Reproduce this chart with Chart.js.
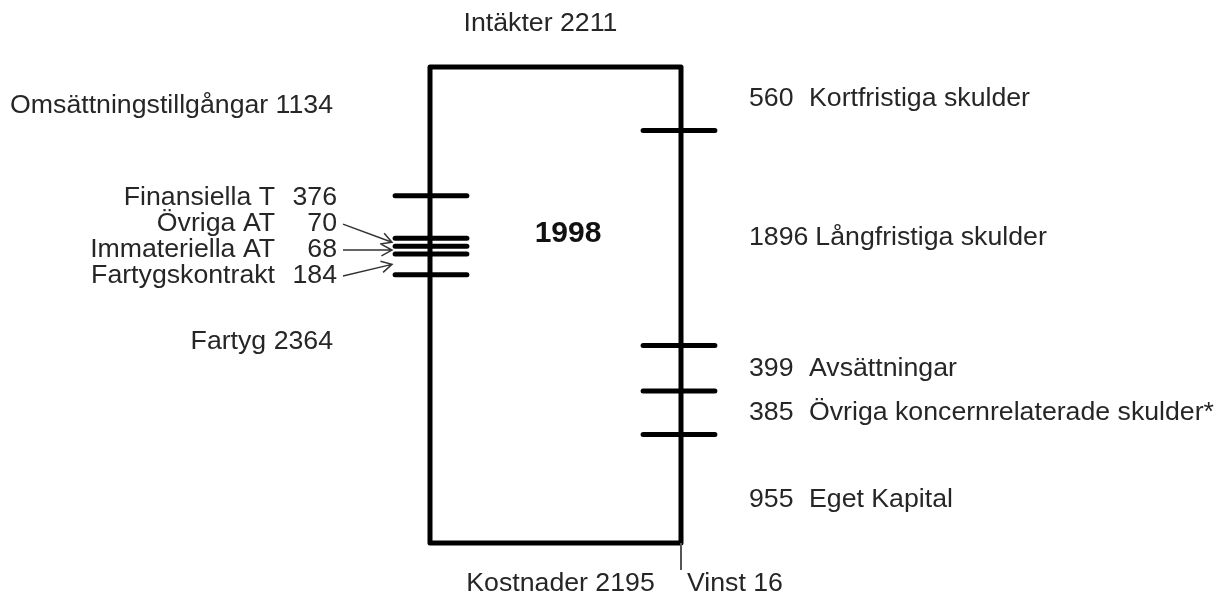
<!DOCTYPE html>
<html>
<head>
<meta charset="utf-8">
<script src="https://cdn.jsdelivr.net/npm/chart.js@4/dist/chart.umd.min.js"></script>
<style>
    html, body { margin: 0; padding: 0; background: #fff; }
    #wrap { width: 1220px; height: 601px; }
</style>
</head>
<body>
<div id="wrap"><canvas id="balanceChart" width="1220" height="601"></canvas></div>
<script>
// Balance sheet 1998 (MSEK)
const year = "1998";
const assetLabels = ["Omsättningstillgångar", "Finansiella T", "Övriga AT", "Immateriella AT", "Fartygskontrakt", "Fartyg"];
const assetValues = [1134, 376, 70, 68, 184, 2364];
const liabilityLabels = ["Kortfristiga skulder", "Långfristiga skulder", "Avsättningar", "Övriga koncernrelaterade skulder*", "Eget Kapital"];
const liabilityValues = [560, 1896, 399, 385, 955];
const revenue = 2211;
const costs = 2195;
const profit = 16;

const arrowed = new Set(["Övriga AT", "Immateriella AT", "Fartygskontrakt"]);
const fontFamily = "'Liberation Sans', Arial, sans-serif";
const textColor = "#262626";

// cumulative edges, top of the box is 0
function edges(values) {
    const out = [0];
    values.forEach((v) => out.push(out[out.length - 1] + v));
    return out;
}
const assetEdges = edges(assetValues);
const liabilityEdges = edges(liabilityValues);
const total = Math.max(assetEdges[assetEdges.length - 1], liabilityEdges[liabilityEdges.length - 1]);

// Function to build a horizontal tick dataset
function tickDataset(y, x0, x1) {
    return {
        data: [{ x: x0, y: y }, { x: x1, y: y }],
        showLine: true,
        borderColor: "#000",
        borderWidth: 5,
        borderCapStyle: "round",
        pointRadius: 0,
        clip: false,
    };
}

const datasets = [
    {
        data: [
            { x: 0, y: 0 },
            { x: 1, y: 0 },
            { x: 1, y: total },
            { x: 0, y: total },
            { x: 0, y: 0 },
        ],
        showLine: true,
        borderColor: "#000",
        borderWidth: 5,
        borderJoinStyle: "round",
        borderCapStyle: "round",
        pointRadius: 0,
        clip: false,
    },
];
assetEdges.slice(1, -1).forEach((y) => datasets.push(tickDataset(y, -0.139, 0.147)));
liabilityEdges.slice(1, -1).forEach((y) => datasets.push(tickDataset(y, 0.849, 1.135)));

function drawArrow(ctx, x0, y0, x1, y1) {
    const a = Math.atan2(y1 - y0, x1 - x0);
    const size = 12;
    ctx.beginPath();
    ctx.moveTo(x0, y0);
    ctx.lineTo(x1, y1);
    ctx.moveTo(x1 - size * Math.cos(a - 0.5), y1 - size * Math.sin(a - 0.5));
    ctx.lineTo(x1, y1);
    ctx.lineTo(x1 - size * Math.cos(a + 0.5), y1 - size * Math.sin(a + 0.5));
    ctx.stroke();
}

const labelPlugin = {
    id: "balanceLabels",
    afterDatasetsDraw(chart) {
        const ctx = chart.ctx;
        const xs = chart.scales.x;
        const ys = chart.scales.y;
        const left = xs.getPixelForValue(0);
        const right = xs.getPixelForValue(1);
        const top = ys.getPixelForValue(0);
        const bottom = ys.getPixelForValue(total);

        ctx.save();
        ctx.fillStyle = textColor;
        ctx.font = `26.7px ${fontFamily}`;
        ctx.textBaseline = "middle";

        // profit stub below right edge
        ctx.lineWidth = 2;
        ctx.strokeStyle = "#555";
        ctx.beginPath();
        ctx.moveTo(right, bottom);
        ctx.lineTo(right, bottom + 27);
        ctx.stroke();
        ctx.strokeStyle = "#333";

        // top / bottom
        ctx.textAlign = "center";
        ctx.fillText(`Intäkter ${revenue}`, xs.getPixelForValue(0.44), top - 43);
        ctx.fillText(`Kostnader ${costs}`, xs.getPixelForValue(0.52), bottom + 41);
        ctx.textAlign = "left";
        ctx.fillText(`Vinst ${profit}`, right + 6, bottom + 41);

        // assets, left side
        const last = assetLabels.length - 1;
        const stackMid = ys.getPixelForValue(assetEdges[3] + assetValues[3] / 2);
        assetLabels.forEach((name, i) => {
            if (i === 0 || i === last) {
                const frac = i === 0 ? 0.3 : 0.25;
                const y = ys.getPixelForValue(assetEdges[i] + assetValues[i] * frac);
                ctx.textAlign = "right";
                ctx.fillText(`${name} ${assetValues[i]}`, left - 97, y);
                return;
            }
            const y = stackMid + (i - 3) * 26;
            ctx.textAlign = "right";
            ctx.fillText(name, left - 155, y);
            ctx.fillText(String(assetValues[i]), left - 93, y);
            if (arrowed.has(name)) {
                ctx.lineWidth = 1.5;
                const target = ys.getPixelForValue(assetEdges[i] + assetValues[i] / 2);
                drawArrow(ctx, left - 87, y, left - 38, target);
            }
        });

        // liabilities, right side
        ctx.textAlign = "left";
        liabilityLabels.forEach((name, i) => {
            const frac = i === liabilityLabels.length - 1 ? 0.6 : 0.5;
            const y = ys.getPixelForValue(liabilityEdges[i] + liabilityValues[i] * frac);
            const num = String(liabilityValues[i]);
            const numX = right + 68;
            ctx.fillText(num, numX, y);
            const nameX = Math.max(numX + 60, numX + ctx.measureText(num).width + 7);
            ctx.fillText(name, nameX, y);
        });

        // year in the box
        ctx.textAlign = "center";
        ctx.font = `bold 30px ${fontFamily}`;
        ctx.fillStyle = "#111";
        ctx.fillText(year, xs.getPixelForValue(0.55), ys.getPixelForValue(total * 0.35));
        ctx.restore();
    },
};

new Chart(document.getElementById("balanceChart"), {
    type: "scatter",
    data: { datasets: datasets },
    options: {
        responsive: false,
        animation: false,
        layout: {
            padding: { left: 430, right: 539, top: 67, bottom: 58 },
        },
        plugins: {
            legend: { display: false },
            tooltip: { enabled: false },
        },
        scales: {
            x: { type: "linear", min: 0, max: 1, display: false },
            y: { type: "linear", min: 0, max: total, reverse: true, display: false },
        },
    },
    plugins: [labelPlugin],
});
</script>
</body>
</html>
